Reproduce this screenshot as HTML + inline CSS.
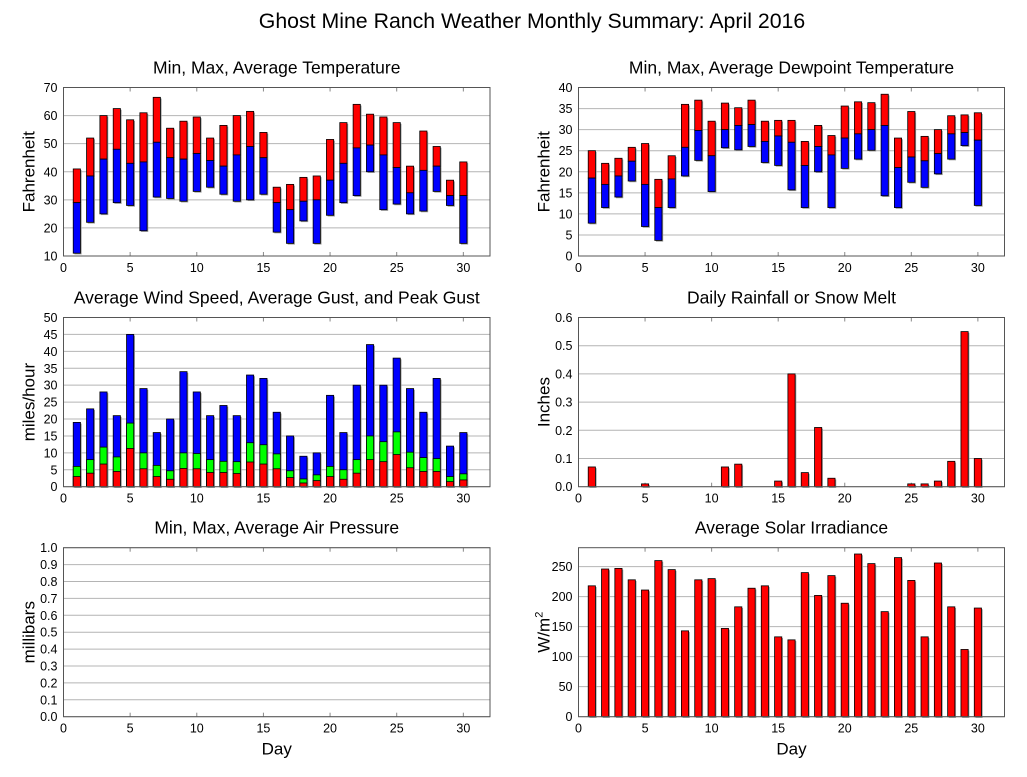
<!DOCTYPE html>
<html><head><meta charset="utf-8"><style>
body{margin:0;background:#fff;width:1027px;height:772px;overflow:hidden}
svg text{font-family:"Liberation Sans",sans-serif;fill:#000}
</style></head><body>
<svg id="c" width="1027" height="772">
<text x="532" y="28" font-size="21.3" text-anchor="middle">Ghost Mine Ranch Weather Monthly Summary: April 2016</text>
</svg>
<script>
const days=[1,2,3,4,5,6,7,8,9,10,11,12,13,14,15,16,17,18,19,20,21,22,23,24,25,26,27,28,29,30];
const tMax=[41,52,60,62.5,58.5,61,66.5,55.5,58,59.5,52,56.5,60,61.5,54,34.5,35.5,38,38.5,51.5,57.5,64,60.5,59.5,57.5,42,54.5,49,37,43.5];
const tAvg=[29,38.5,44.5,48,43,43.5,50.5,45,44.5,46.5,44,42,46,49,45,29,26.5,29.5,30,37,43,48.5,49.5,46,41.5,32.5,40.5,42,31.5,31.5];
const tMin=[11,22,25,29,28,19,31,30.5,29.5,33,34.5,32,29.5,30,32,18.5,14.5,22.5,14.5,24.5,29,31.5,40,26.5,28.5,25,26,33,28,14.5];
const dMax=[25,22,23.2,25.8,26.7,18.2,23.8,36,37,32,36.3,35.2,37,32,32.2,32.2,27.2,31,28.6,35.6,36.6,36.4,38.4,28,34.3,28.4,30,33.3,33.5,34];
const dAvg=[18.5,17,19,22.5,17,11.5,18.3,25.8,29.8,23.8,30,31,31.2,27.2,28.5,27,21.5,26,24,28,29,30,31,21,23.5,22.6,24.3,29,29.3,27.5];
const dMin=[7.8,11.5,14,17.8,7,3.7,11.5,19,22.7,15.3,25.7,25.2,26,22.2,21.5,15.7,11.5,20,11.5,20.8,23,25.1,14.3,11.5,17.5,16.3,19.5,23,26.2,12];
const wAvg=[3,4,6.7,4.5,11.3,5.3,3,2.2,5.4,5.3,4.2,4.2,3.9,7.3,6.7,5.3,2.7,1.1,1.8,3,2.2,4,8,7.4,9.5,5.6,4.5,4.5,1.5,2];
const wGust=[6,8,11.7,8.8,18.8,10,6.3,4.7,10,9.8,8,7.5,7.4,13,12.4,9.7,4.7,2.3,3.5,6,5,8,15,13.3,16.2,10.2,8.6,8.3,3,3.8];
const wPeak=[19,23,28,21,45,29,16,20,34,28,21,24,21,33,32,22,15,9,10,27,16,30,42,30,38,29,22,32,12,16];
const rain=[0.07,0,0,0,0.01,0,0,0,0,0,0.07,0.08,0,0,0.02,0.40,0.05,0.21,0.03,0,0,0,0,0,0.01,0.01,0.02,0.09,0.55,0.10];
const solar=[218,246,247,228,211,260,245,143,228,230,147,183,214,218,133,128,240,202,235,189,271,255,175,265,227,133,256,183,112,181];
const xTicks=[0,5,10,15,20,25,30];
const tTicks=[10,20,30,40,50,60,70];
const dTicks=[0,5,10,15,20,25,30,35,40];
const wTicks=[0,5,10,15,20,25,30,35,40,45,50];
const rTicks=[0,0.1,0.2,0.3,0.4,0.5,0.6];
const pTicks=[0,0.1,0.2,0.3,0.4,0.5,0.6,0.7,0.8,0.9,1.0];
const sTicks=[0,50,100,150,200,250];

const svg=document.getElementById('c');
const NS='http://www.w3.org/2000/svg';
function mk(tag,at,parent){const e=document.createElementNS(NS,tag);for(const k in at)e.setAttribute(k,at[k]);(parent||svg).appendChild(e);return e;}
function panel(o){
  const g=mk('g',{});
  
  
  const X=v=>o.x0+(v/32)*(o.x1-o.x0);
  const Y=v=>o.y1-(v-o.ymin)/(o.ymax-o.ymin)*(o.y1-o.y0);
  const t=mk('text',{x:(o.x0+o.x1)/2,y:o.y0-14,'font-size':17.5,'text-anchor':'middle'},g);t.textContent=o.title;
  
  
  o.yt.forEach(v=>{
    const y=Y(v);
    mk('line',{x1:o.x0,x2:o.x1,y1:y,y2:y,stroke:'#b4b4b4','stroke-width':1},g);
    const l=mk('text',{x:o.x0-6,y:y+4.5,'font-size':12.5,'text-anchor':'end'},g);l.textContent=o.fmt?o.fmt(v):v;
    
    
  });
  xTicks.forEach(v=>{
    const x=X(v);
    mk('line',{x1:x,x2:x,y1:o.y1,y2:o.y1-4,stroke:'#888'},g);
    mk('line',{x1:x,x2:x,y1:o.y0,y2:o.y0+4,stroke:'#888'},g);
    const l=mk('text',{x:x,y:o.y1+16,'font-size':12.5,'text-anchor':'middle'},g);l.textContent=v;
    
    
  });
  const yl=mk('text',{transform:`translate(${o.x0-29},${(o.y0+o.y1)/2}) rotate(-90)`,'font-size':17,'text-anchor':'middle'},g);
  if(o.ylabSup){yl.innerHTML='W/m<tspan dy="-7" font-size="11">2</tspan>';}else yl.textContent=o.ylab;
  
  
  if(o.xlab){const xl=mk('text',{x:(o.x0+o.x1)/2,y:o.y1+38,'font-size':17,'text-anchor':'middle'},g);xl.textContent='Day';
    
    }
  const bars=mk('g',{},g);
  (o.series||[]).forEach(s=>{
    days.forEach((d,i)=>{
      const lo=s.lo?s.lo[i]:o.ymin, hi=s.hi[i];
      if(hi-lo<=0)return;
      const x=X(d)-3.6, ya=Y(hi), yb=Y(lo);
      mk('rect',{x:x+1.2,y:ya+1.2,width:7.2,height:yb-ya,fill:'#999'},bars);
      const r=mk('rect',{x:x,y:ya,width:7.2,height:yb-ya,fill:s.color,stroke:'#000','stroke-width':0.8},bars);
      
      
    });
  });
  mk('rect',{x:o.x0,y:o.y0,width:o.x1-o.x0,height:o.y1-o.y0,fill:'none',stroke:'#555','stroke-width':1},g);
}
const L=[63.5,490],R=[578.5,1004.5];
const T=[87.5,256],M=[317.5,486.7],B=[547.7,716.7];
panel({name:'temperature-panel',title:'Min, Max, Average Temperature',x0:L[0],x1:L[1],y0:T[0],y1:T[1],ymin:10,ymax:70,yt:tTicks,ylab:'Fahrenheit',
  series:[{name:'temp-high',lo:tAvg,hi:tMax,color:'#ff0000'},{name:'temp-low',lo:tMin,hi:tAvg,color:'#0000ff'}]});
panel({name:'dewpoint-panel',title:'Min, Max, Average Dewpoint Temperature',x0:R[0],x1:R[1],y0:T[0],y1:T[1],ymin:0,ymax:40,yt:dTicks,ylab:'Fahrenheit',
  series:[{name:'dew-high',lo:dAvg,hi:dMax,color:'#ff0000'},{name:'dew-low',lo:dMin,hi:dAvg,color:'#0000ff'}]});
panel({name:'wind-panel',title:'Average Wind Speed, Average Gust, and Peak Gust',x0:L[0],x1:L[1],y0:M[0],y1:M[1],ymin:0,ymax:50,yt:wTicks,ylab:'miles/hour',
  series:[{name:'peak-gust',hi:wPeak,color:'#0000ff'},{name:'avg-gust',hi:wGust,color:'#00ff00'},{name:'avg-wind',hi:wAvg,color:'#ff0000'}]});
panel({name:'rain-panel',title:'Daily Rainfall or Snow Melt',x0:R[0],x1:R[1],y0:M[0],y1:M[1],ymin:0,ymax:0.6,yt:rTicks,ylab:'Inches',fmt:v=>v===0?'0.0':String(v),
  series:[{name:'rain',hi:rain,color:'#ff0000'}]});
panel({name:'pressure-panel',title:'Min, Max, Average Air Pressure',x0:L[0],x1:L[1],y0:B[0],y1:B[1],ymin:0,ymax:1,yt:pTicks,ylab:'millibars',xlab:true,fmt:v=>v.toFixed(1),series:[]});
panel({name:'solar-panel',title:'Average Solar Irradiance',x0:R[0],x1:R[1],y0:B[0],y1:B[1],ymin:0,ymax:281.5,yt:sTicks,ylabSup:true,xlab:true,
  series:[{name:'solar',hi:solar,color:'#ff0000'}]});
</script>
</body></html>
